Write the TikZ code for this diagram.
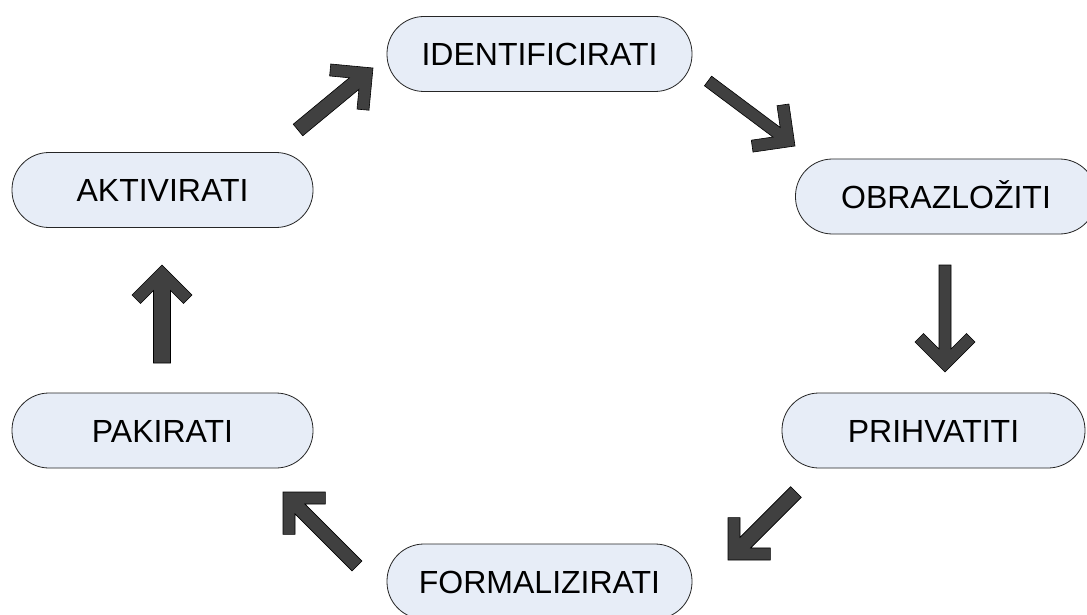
\documentclass[tikz,border=0pt]{standalone}
\usepackage{fontspec}
\setmainfont{Liberation Sans}
\usetikzlibrary{calc}
\definecolor{pillfill}{RGB}{231,237,247}
\definecolor{arrowfill}{RGB}{64,64,64}
\tikzset{
  pill/.style={draw=black!85, line width=0.8pt, fill=pillfill, rectangle,
    rounded corners=37pt, minimum height=75pt, minimum width=301pt,
    inner sep=0pt, text height=23pt, text depth=0pt,
    font=\fontsize{32}{38}\selectfont},
  blockarrow/.style={fill=arrowfill, draw=black, line width=0.6pt, line join=miter},
}
% #1 tail, #2 tip, #3 shaft half-width (pt)
\newcommand\blkarrow[3]{%
  \path[blockarrow] (#2)
    -- ($(#2)!30pt!(#1)!30pt!90:(#1)$)
    -- ($(#2)!38.5pt!(#1)!21.5pt!90:(#1)$)
    -- ($(#2)!{17pt+#3pt}!(#1)!#3pt!90:(#1)$)
    -- ($(#1)!#3pt!-90:(#2)$)
    -- ($(#1)!#3pt!90:(#2)$)
    -- ($(#2)!{17pt+#3pt}!(#1)!#3pt!-90:(#1)$)
    -- ($(#2)!38.5pt!(#1)!21.5pt!-90:(#1)$)
    -- ($(#2)!30pt!(#1)!30pt!-90:(#1)$)
    -- cycle;}
\begin{document}
\begin{tikzpicture}[x=1pt,y=-1pt]
\useasboundingbox (0,0) rectangle (1087,615);
\clip (0,0) rectangle (1087,615);
\fill[white] (0,0) rectangle (1087,615);

\node[pill, minimum width=305pt] (ident) at (539.5,54) {IDENTIFICIRATI};
\node[pill] (aktiv) at (162.5,190) {AKTIVIRATI};
\node[pill] (obraz) at (946,196.5) {OBRAZLOŽITI};
\node[pill, minimum width=303pt] (prihv) at (933.5,430.5) {PRIHVATITI};
\node[pill] (pakir) at (162.5,430.5) {PAKIRATI};
\node[pill, minimum width=305pt] (formal) at (539.5,581.5) {FORMALIZIRATI};

\coordinate (t1) at (298,130); \coordinate (h1) at (373,68);
\coordinate (t2) at (708,81);  \coordinate (h2) at (795,146);
\coordinate (t3) at (945,265); \coordinate (h3) at (945,372);
\coordinate (t4) at (796,492); \coordinate (h4) at (728,560);
\coordinate (t5) at (357,566); \coordinate (h5) at (283,492);
\coordinate (t6) at (162,363); \coordinate (h6) at (162,265);

\blkarrow{t1}{h1}{7.5}
\blkarrow{t2}{h2}{6}
\blkarrow{t3}{h3}{6}
\blkarrow{t4}{h4}{7.5}
\blkarrow{t5}{h5}{7}
\blkarrow{t6}{h6}{8.5}
\end{tikzpicture}
\end{document}
